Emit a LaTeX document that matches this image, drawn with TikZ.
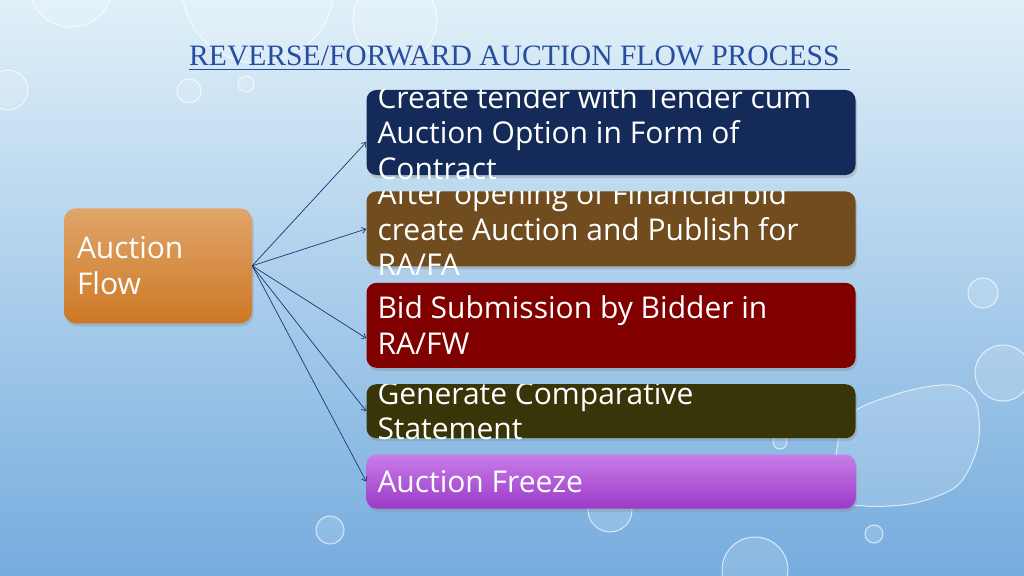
\documentclass[tikz,border=0pt]{standalone}
\usepackage{fontspec}
\usepackage{tikz}
\usetikzlibrary{positioning,shadows,arrows.meta}
\newfontfamily\boxfont{Open Sans}
\newfontfamily\titlefont{Liberation Serif}
\definecolor{skytop}{RGB}{224,240,248}
\definecolor{skybottom}{RGB}{118,172,222}
\definecolor{titleblue}{RGB}{40,76,160}
\definecolor{arrowblue}{RGB}{28,52,118}
\definecolor{navybox}{RGB}{20,42,88}
\definecolor{brownbox}{RGB}{112,76,30}
\definecolor{redbox}{RGB}{128,0,0}
\definecolor{olivebox}{RGB}{56,54,8}
\definecolor{violettop}{RGB}{200,125,232}
\definecolor{violetbottom}{RGB}{155,58,200}
\definecolor{orangetop}{RGB}{224,165,105}
\definecolor{orangebottom}{RGB}{205,120,38}

\begin{document}
\begin{tikzpicture}[x=1pt,y=-1pt,
		bubble/.style={draw=white, draw opacity=0.7, line width=1pt, fill=white, fill opacity=0.15},
		shadowbox/.style={rounded corners=10pt, inner sep=0pt, drop shadow={shadow xshift=1.5pt,shadow yshift=-3pt,opacity=0.3}},
		flowbox/.style={shadowbox, minimum width=489pt},
		flowfont/.style={text=white, font=\boxfont\fontsize{30}{35.5}\selectfont},
		flowtext/.style={flowfont, anchor=west, align=left, inner xsep=11pt, inner ysep=0pt},
		flowarrow/.style={arrowblue, line width=0.7pt, -{Straight Barb[length=4pt,width=6pt]}},
		node distance=16pt]
		
		\useasboundingbox (0,0) rectangle (1024,575);
		\shade[top color=skytop, bottom color=skybottom] (0,0) rectangle (1024,575);
		
		% water drops
		\begin{scope}
		\clip (0,0) rectangle (1024,575);
		\foreach \x/\y/\r in {71/-15/42, 258/-13/76, 395/20/42, 8/90/20, 189/91/12, 246/84/8, 983/293/15, 1003/373/28, 780/442/7, 874/534/9, 755/570/33, 330/530/14, 610/510/22}
			\draw[bubble] (\x,\y) circle[radius=\r];
		\draw[bubble] plot[smooth cycle] coordinates {(845,420) (900,393) (952,385) (976,402) (978,445) (958,485) (915,503) (865,506) (835,495)};
		\end{scope}
		
		\node[anchor=base west, inner sep=0pt, text=titleblue, font=\titlefont\fontsize{29.6}{34}\selectfont] (title) at (189,65.7) {REVERSE/FORWARD AUCTION FLOW PROCESS};
		\draw[titleblue, line width=1.1pt] ([yshift=-3.6pt]title.base west) -- ([yshift=-3.6pt,xshift=10pt]title.base east);
		
		\node[shadowbox, rounded corners=12pt, minimum width=188pt, minimum height=115pt, text width=162pt, inner xsep=13pt, align=left, top color=orangetop, bottom color=orangebottom, flowfont] (F) at (158,265.8) {Auction\\Flow};
		
		\node[flowbox, fill=navybox, minimum height=85pt] (B1) at (611,132.5) {};
		\node[flowbox, fill=brownbox, minimum height=75pt, below=of B1] (B2) {};
		\node[flowbox, fill=redbox, minimum height=85pt, below=of B2] (B3) {};
		\node[flowbox, fill=olivebox, minimum height=54pt, below=of B3] (B4) {};
		\node[flowbox, top color=violettop, bottom color=violetbottom, minimum height=54pt, below=of B4] (B5) {};
		
		% texts are cut at the top edge of their box
		\begin{scope}
		\clip (B1.north west) rectangle ([yshift=-30pt]B1.south east);
		\node[flowtext] (T1) at (B1.west) {Create tender with Tender cum\\Auction Option in Form of\\Contract};
		\end{scope}
		\begin{scope}
		\clip (B2.north west) rectangle ([yshift=-30pt]B2.south east);
		\node[flowtext] (T2) at (B2.west) {After opening of Financial bid\\create Auction and Publish for\\RA/FA};
		\end{scope}
		\begin{scope}
		\clip (B3.north west) rectangle ([yshift=-30pt]B3.south east);
		\node[flowtext] (T3) at (B3.west) {Bid Submission by Bidder in\\RA/FW};
		\end{scope}
		\begin{scope}
		\clip (B4.north west) rectangle ([yshift=-30pt]B4.south east);
		\node[flowtext] (T4) at (B4.west) {Generate Comparative\\Statement};
		\end{scope}
		\begin{scope}
		\clip (B5.north west) rectangle ([yshift=-30pt]B5.south east);
		\node[flowtext] (T5) at (B5.west) {Auction Freeze};
		\end{scope}
		
		\draw[flowarrow] (F.east) -- ([yshift=-9.5pt]B1.west);
		\draw[flowarrow] (F.east) -- (B2.west);
		\draw[flowarrow] (F.east) -- ([yshift=-13pt]B3.west);
		\draw[flowarrow] (F.east) -- (B4.west);
		\draw[flowarrow] (F.east) -- (B5.west);
		
\end{tikzpicture}
\end{document}
